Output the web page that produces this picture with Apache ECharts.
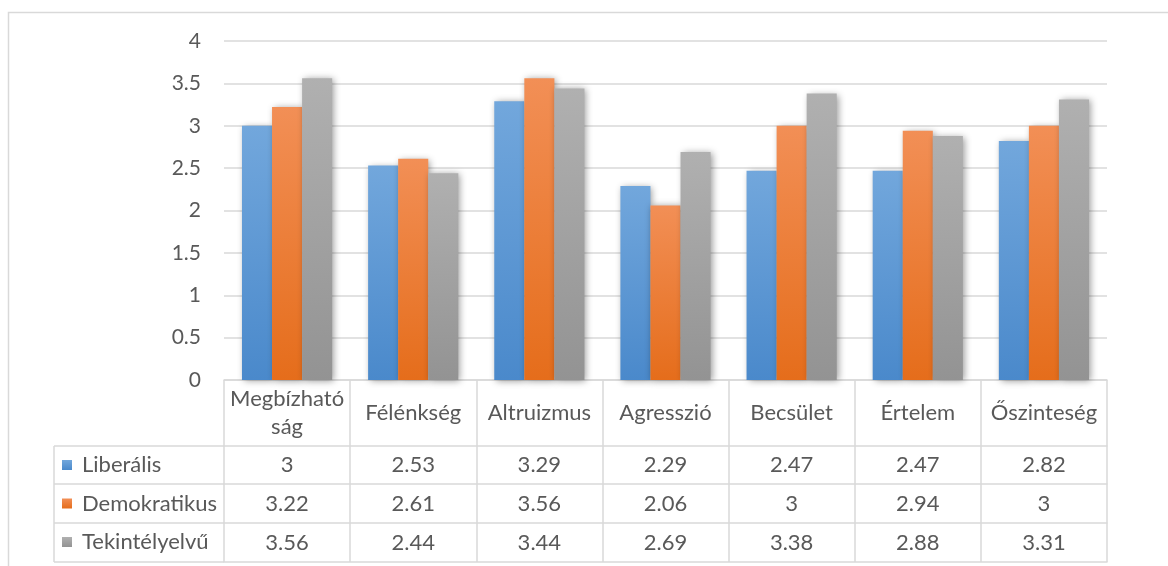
<!DOCTYPE html>
<html>
<head>
<meta charset="utf-8">
<script src="https://cdn.jsdelivr.net/npm/echarts@6/dist/echarts.min.js"></script>
<style>
  html, body { margin: 0; padding: 0; background: #ffffff; }
  #chart { width: 1168px; height: 566px; }
</style>
</head>
<body>
<div id="chart"></div>
<script>
// Categories and the three group means
const categories = ['Megbízhatóság', 'Félénkség', 'Altruizmus', 'Agresszió', 'Becsület', 'Értelem', 'Őszinteség'];
const seriesNames = ['Liberális', 'Demokratikus', 'Tekintélyelvű'];
const liberalis = [3, 2.53, 3.29, 2.29, 2.47, 2.47, 2.82];
const demokratikus = [3.22, 2.61, 3.56, 2.06, 3, 2.94, 3];
const tekintelyelvu = [3.56, 2.44, 3.44, 2.69, 3.38, 2.88, 3.31];
const yMin = 0, yMax = 4, yStep = 0.5;

// Layout of plot and data table (pixels)
const W = 1168, H = 566;
const plotLeft = 224, plotRight = 1107, plotTop = 41, plotBottom = 380;
const headerH = 66;
const rowH = [38, 39, 39];
const tableLeft = 54;
const lineColor = '#d9d9d9';
const textColor = '#595959';
const font = 'Lato';
const axisFontSize = 21;
const tableFontSize = 22;

const rows = [liberalis, demokratikus, tekintelyelvu];
const fills = [
  ['#72a7dc', '#4a89cb'],
  ['#f28f56', '#e56d1b'],
  ['#b0b0b0', '#939393']
];

function grad(c) {
  return new echarts.graphic.LinearGradient(0, 0, 0, 1, [
    { offset: 0, color: c[0] },
    { offset: 1, color: c[1] }
  ]);
}

// Row boundary offsets below the plot
const rowOffsets = [headerH];
rowH.forEach(h => rowOffsets.push(rowOffsets[rowOffsets.length - 1] + h));
const tableBottom = plotBottom + rowOffsets[rowOffsets.length - 1];

const xAxes = [{
  type: 'category',
  data: categories,
  position: 'bottom',
  axisLine: { show: true, lineStyle: { color: lineColor, width: 1.5 } },
  axisTick: { show: true, length: tableBottom - plotBottom, lineStyle: { color: lineColor, width: 1.5 } },
  axisLabel: {
    margin: headerH / 2,
    verticalAlign: 'middle',
    color: textColor,
    fontFamily: font,
    fontSize: tableFontSize,
    lineHeight: 28,
    interval: 0,
    formatter: v => v === 'Megbízhatóság' ? 'Megbízható\nság' : v
  }
}];

// One axis per table row: its line is the row's top border, its labels the row's values
rows.forEach((vals, r) => {
  xAxes.push({
    type: 'category',
    data: categories,
    position: 'bottom',
    offset: rowOffsets[r],
    axisLine: { show: true, lineStyle: { color: lineColor, width: 1.5 } },
    axisTick: { show: false },
    axisLabel: {
      margin: rowH[r] / 2,
      verticalAlign: 'middle',
      color: textColor,
      fontFamily: font,
      fontSize: tableFontSize,
      interval: 0,
      formatter: (v, i) => String(vals[i])
    }
  });
});
// Bottom border of the table
xAxes.push({
  type: 'category',
  data: categories,
  position: 'bottom',
  offset: rowOffsets[rowOffsets.length - 1],
  axisLine: { show: true, lineStyle: { color: lineColor, width: 1.5 } },
  axisTick: { show: false },
  axisLabel: { show: false }
});

// Legend column lines to the left of the plot
const legendLines = [];
rowOffsets.forEach(off => {
  legendLines.push({
    type: 'line',
    shape: { x1: tableLeft, y1: plotBottom + off, x2: plotLeft, y2: plotBottom + off },
    style: { stroke: lineColor, lineWidth: 1.5 },
    silent: true
  });
});
legendLines.push({
  type: 'line',
  shape: { x1: tableLeft, y1: plotBottom + headerH, x2: tableLeft, y2: tableBottom },
  style: { stroke: lineColor, lineWidth: 1.5 },
  silent: true
});
// Chart area frame
legendLines.push({
  type: 'rect',
  shape: { x: 8.5, y: 12.5, width: W + 20, height: H + 20 },
  style: { fill: null, stroke: lineColor, lineWidth: 1.5 },
  silent: true
});

const option = {
  animation: false,
  backgroundColor: '#ffffff',
  grid: {
    left: plotLeft,
    right: W - plotRight,
    top: plotTop,
    bottom: H - plotBottom,
    containLabel: false
  },
  legend: {
    orient: 'vertical',
    left: 62,
    top: plotBottom + headerH + 8,
    padding: 0,
    itemWidth: 10,
    itemHeight: 10,
    itemGap: 16.5,
    icon: 'rect',
    selectedMode: false,
    textStyle: {
      color: textColor,
      fontFamily: font,
      fontSize: tableFontSize,
      lineHeight: 22,
      padding: [0, 0, 0, 5]
    },
    data: seriesNames
  },
  xAxis: xAxes,
  yAxis: {
    type: 'value',
    min: yMin,
    max: yMax,
    interval: yStep,
    axisLine: { show: false },
    axisTick: { show: false },
    axisLabel: {
      margin: 23,
      color: textColor,
      fontFamily: font,
      fontSize: axisFontSize
    },
    splitLine: { lineStyle: { color: lineColor, width: 1.5 } }
  },
  graphic: legendLines,
  series: rows.map((vals, r) => ({
    name: seriesNames[r],
    type: 'bar',
    data: vals,
    barGap: '0%',
    barCategoryGap: '28.5%',
    itemStyle: {
      color: grad(fills[r]),
      shadowColor: 'rgba(0,0,0,0.4)',
      shadowBlur: 7,
      shadowOffsetX: 2,
      shadowOffsetY: 1
    }
  }))
};

const chart = echarts.init(document.getElementById('chart'), null, { renderer: 'canvas' });
chart.setOption(option);
</script>
</body>
</html>
